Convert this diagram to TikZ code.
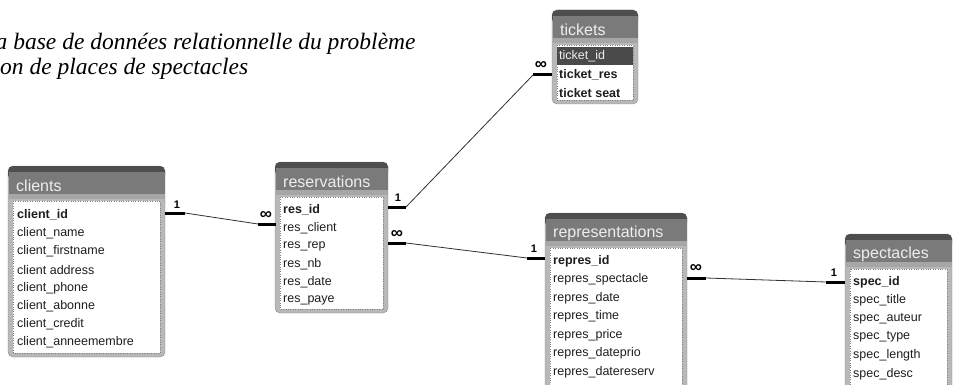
\documentclass[tikz,border=0pt]{standalone}
\usepackage{fontspec}
\setmainfont{Liberation Serif}
\newfontfamily\captfont{Liberation Serif}
\newfontfamily\accessfont{Liberation Sans}
\usetikzlibrary{calc}

\definecolor{headtop}{HTML}{4E4E4E}
\definecolor{headc}{HTML}{7A7A7A}
\definecolor{stripc}{HTML}{A6A6A6}
\definecolor{framec}{HTML}{B8B8B8}
\definecolor{edgec}{HTML}{8C8C8C}
\definecolor{titlec}{HTML}{EEEEEE}
\definecolor{fieldc}{HTML}{1E1E1E}
\definecolor{selc}{HTML}{4A4A4A}
\definecolor{linec}{HTML}{303030}

\begin{document}
\begin{tikzpicture}[x=1pt, y=-1pt, line join=round,
    field/.style={anchor=west, inner sep=0pt, text=fieldc,
      font=\accessfont\fontsize{12.5}{14}\selectfont},
    ttitle/.style={anchor=west, inner sep=0pt, text=titlec,
      font=\accessfont\fontsize{16}{18}\selectfont},
    stub/.style={line width=3pt, line cap=butt},
    rel/.style={line width=0.8pt, draw=linec},
    card/.style={inner sep=0pt, font=\accessfont\bfseries\fontsize{11}{12}\selectfont},
    cardinf/.style={inner sep=0pt, font=\accessfont\bfseries\fontsize{17}{18}\selectfont}]

    \useasboundingbox (0,0) rectangle (953,385);

    % legende
    \node[anchor=base west, inner sep=0pt, font=\captfont\itshape\fontsize{23.5}{25}\selectfont] (cap1) at (-4.5,50) {a base de données relationnelle du problème};
    \node[anchor=base west, inner sep=0pt, font=\captfont\itshape\fontsize{23.5}{25}\selectfont] (cap2) at (0,75) {on de places de spectacles};

    % cadres des tables
    \foreach \xa/\ya/\xb/\yb/\tname in {8/166/165/357/clients, 275/162/388/313/reservations,
        552/10/638/104/tickets, 545/213/687/400/representations, 845/234/952/400/spectacles}{
      \filldraw[fill=framec, draw=edgec, rounded corners=5pt] (\xa,\ya) rectangle (\xb,\yb);
      \fill[headtop, rounded corners=5pt] (\xa,\ya) rectangle (\xb,{\ya+14});
      \fill[headc] ({\xa+0.5},{\ya+6}) rectangle ({\xb-0.5},{\ya+28});
      \fill[stripc] ({\xa+0.5},{\ya+28}) rectangle ({\xb-0.5},{\ya+33});
      \node[ttitle] (\tname-t) at ({\xa+8},{\ya+20}) {\tname};
      \draw[gray, dotted, fill=white] ({\xa+5},{\ya+35}) rectangle ({\xb-5},{\yb-4});
    }

    % champs
    \foreach \f [count=\i] in {client\_id, client\_name, client\_firstname, client address,
        client\_phone, client\_abonne, client\_credit, client\_anneemembre}
      \node[field] (cl\i) at (17,{215+18.2*(\i-1)}) {\ifnum\i=1\bfseries\fi\f};
    \foreach \f [count=\i] in {res\_id, res\_client, res\_rep, res\_nb, res\_date, res\_paye}
      \node[field] (re\i) at (283,{210+18*(\i-1)}) {\ifnum\i=1\bfseries\fi\f};
    \fill[selc] (557,47) rectangle (633,65);
    \node[field, text=titlec] (ti1) at (559,56) {ticket\_id};
    \node[field, font=\accessfont\bfseries\fontsize{12.5}{14}\selectfont] (ti2) at (559,75) {ticket\_res};
    \node[field, font=\accessfont\bfseries\fontsize{12.5}{14}\selectfont] (ti3) at (559,93) {ticket seat};
    \foreach \f [count=\i] in {repres\_id, repres\_spectacle, repres\_date, repres\_time,
        repres\_price, repres\_dateprio, repres\_datereserv}
      \node[field] (rp\i) at (553,{261+18.5*(\i-1)}) {\ifnum\i=1\bfseries\fi\f};
    \foreach \f [count=\i] in {spec\_id, spec\_title, spec\_auteur, spec\_type, spec\_length, spec\_desc}
      \node[field] (sp\i) at (853,{282+18.4*(\i-1)}) {\ifnum\i=1\bfseries\fi\f};

    % points d'attache
    \coordinate (clA) at (165,213);  \coordinate (clB) at (185,213);
    \coordinate (reA) at (276,224);  \coordinate (reB) at (258,224);
    \coordinate (reC) at (388,207);  \coordinate (reD) at (406,207);
    \coordinate (tiA) at (552,75);   \coordinate (tiB) at (533,75);
    \coordinate (reE) at (388,243);  \coordinate (reF) at (406,243);
    \coordinate (rpA) at (545,258);  \coordinate (rpB) at (527,258);
    \coordinate (rpC) at (687,278);  \coordinate (rpD) at (706,278);
    \coordinate (spA) at (845,282);  \coordinate (spB) at (826,282);

    % relations
    \draw[stub] (clA) -- (clB);  \draw[rel] (clB) -- (reB);  \draw[stub] (reB) -- (reA);
    \draw[stub] (reC) -- (reD);  \draw[rel] (reD) -- (tiB);  \draw[stub] (tiB) -- (tiA);
    \draw[stub] (reE) -- (reF);  \draw[rel] (reF) -- (rpB);  \draw[stub] (rpB) -- (rpA);
    \draw[stub] (rpC) -- (rpD);  \draw[rel] (rpD) -- (spB);  \draw[stub] (spB) -- (spA);

    % cardinalites
    \node[card] (k1) at (177,205) {1};
    \node[cardinf] (k2) at (266,215) {∞};
    \node[card] (k3) at (398,198) {1};
    \node[cardinf] (k4) at (541,66) {∞};
    \node[cardinf] (k5) at (397,234) {∞};
    \node[card] (k6) at (534,249) {1};
    \node[cardinf] (k7) at (696,268) {∞};
    \node[card] (k8) at (834,273) {1};
\end{tikzpicture}
\end{document}
